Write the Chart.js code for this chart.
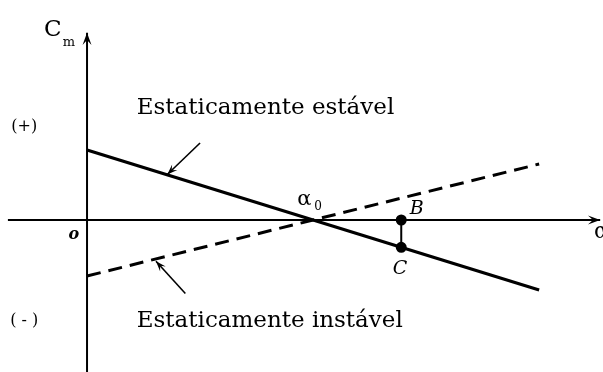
<!DOCTYPE html>
<html>
<head>
<meta charset="utf-8">
<script src="https://cdn.jsdelivr.net/npm/chart.js@4/dist/chart.umd.min.js"></script>
<style>
  html, body { margin: 0; padding: 0; background: #fff; }
  #wrap { width: 603px; height: 372px; position: relative; }
</style>
</head>
<body>
<div id="wrap"><canvas id="chart"></canvas></div>
<script>
// angle of attack (alpha) at the ends of the two lines
const alphaValues = [0, 8];
// Cm for the statically stable aircraft (negative slope)
const stableCm = [2, -2];
// Cm for the statically unstable aircraft (positive slope)
const unstableCm = [-1.6, 1.6];
// trim angle and the B / C points
const alphaZero = 4;
const pointAlpha = 5.56;
const pointCm = [0, -0.78];

const SERIF = '"DejaVu Serif", "Liberation Serif", serif';

const toXY = (xs, ys) => xs.map((x, i) => ({ x: x, y: ys[i] }));

// draw a line with an arrow head at (x2,y2)
function arrow(ctx, x1, y1, x2, y2, size, width) {
    const a = Math.atan2(y2 - y1, x2 - x1);
    ctx.save();
    ctx.lineWidth = width;
    ctx.beginPath();
    ctx.moveTo(x1, y1);
    ctx.lineTo(x2, y2);
    ctx.stroke();
    ctx.beginPath();
    ctx.moveTo(x2, y2);
    ctx.lineTo(x2 - size * Math.cos(a - 0.35), y2 - size * Math.sin(a - 0.35));
    ctx.lineTo(x2 - size * 0.55 * Math.cos(a), y2 - size * 0.55 * Math.sin(a));
    ctx.lineTo(x2 - size * Math.cos(a + 0.35), y2 - size * Math.sin(a + 0.35));
    ctx.closePath();
    ctx.fill();
    ctx.restore();
}

const sketchPlugin = {
    id: 'sketch',
    beforeDatasetsDraw(chart) {
        const ctx = chart.ctx;
        const sx = chart.scales.x, sy = chart.scales.y;
        const X = v => sx.getPixelForValue(v);
        const Y = v => sy.getPixelForValue(v);
        ctx.save();
        ctx.strokeStyle = '#000';
        ctx.fillStyle = '#000';
        // horizontal axis (alpha)
        arrow(ctx, X(-1.4), Y(0), X(9.08), Y(0), 13, 2);
        // vertical axis (Cm)
        arrow(ctx, X(0), Y(-4.4), X(0), Y(5.35), 13, 2);
        ctx.restore();
    },
    afterDatasetsDraw(chart) {
        const ctx = chart.ctx;
        const sx = chart.scales.x, sy = chart.scales.y;
        const X = v => sx.getPixelForValue(v);
        const Y = v => sy.getPixelForValue(v);
        ctx.save();
        ctx.strokeStyle = '#000';
        ctx.fillStyle = '#000';

        // pointer arrows to the two lines
        arrow(ctx, X(2.0), Y(2.2), X(1.42), Y(1.3), 11, 1.6);
        arrow(ctx, X(1.74), Y(-2.1), X(1.22), Y(-1.18), 11, 1.6);

        ctx.textBaseline = 'alphabetic';
        ctx.font = '23px ' + SERIF;
        ctx.fillText('Estaticamente estável', X(0.88), Y(3.03));
        ctx.fillText('Estaticamente instável', X(0.88), Y(-3.06));

        ctx.font = '16px ' + SERIF;
        ctx.fillText('(+)', X(-1.34), Y(2.55));
        ctx.fillText('( - )', X(-1.36), Y(-3.0));

        // axis names
        ctx.font = '23px ' + SERIF;
        ctx.fillText('C', X(-0.76), Y(5.25));
        ctx.font = '13px ' + SERIF;
        ctx.fillText('m', X(-0.43), Y(4.98));
        ctx.font = '22px ' + SERIF;
        ctx.fillText('\u03b1', X(8.97), Y(-0.52));

        ctx.font = 'italic bold 16px ' + SERIF;
        ctx.fillText('o', X(-0.33), Y(-0.55));

        ctx.font = '21px ' + SERIF;
        ctx.fillText('\u03b1', X(alphaZero - 0.28), Y(0.43));
        ctx.font = '12px ' + SERIF;
        ctx.fillText('0', X(alphaZero + 0.02), Y(0.28));

        ctx.font = 'italic 19px ' + SERIF;
        ctx.fillText('B', X(pointAlpha + 0.15), Y(0.17));
        ctx.fillText('C', X(pointAlpha - 0.15), Y(-1.53));
        ctx.restore();
    }
};

new Chart(document.getElementById('chart'), {
    type: 'scatter',
    data: {
        datasets: [
            {
                label: 'Estaticamente estável',
                data: toXY(alphaValues, stableCm),
                showLine: true,
                borderColor: '#000',
                borderWidth: 3.2,
                pointRadius: 0
            },
            {
                label: 'Estaticamente instável',
                data: toXY(alphaValues, unstableCm),
                showLine: true,
                borderColor: '#000',
                borderWidth: 3,
                borderDash: [14, 8],
                pointRadius: 0
            },
            {
                label: 'BC',
                data: toXY([pointAlpha, pointAlpha], pointCm),
                showLine: true,
                borderColor: '#000',
                backgroundColor: '#000',
                borderWidth: 2,
                pointRadius: 4.5
            }
        ]
    },
    options: {
        responsive: true,
        maintainAspectRatio: false,
        animation: false,
        layout: { padding: 0, autoPadding: false },
        plugins: {
            legend: { display: false },
            tooltip: { enabled: false }
        },
        scales: {
            x: { type: 'linear', min: -1.54, max: 9.13, display: false },
            y: { type: 'linear', min: -4.343, max: 6.286, display: false }
        }
    },
    plugins: [sketchPlugin]
});
</script>
</body>
</html>
